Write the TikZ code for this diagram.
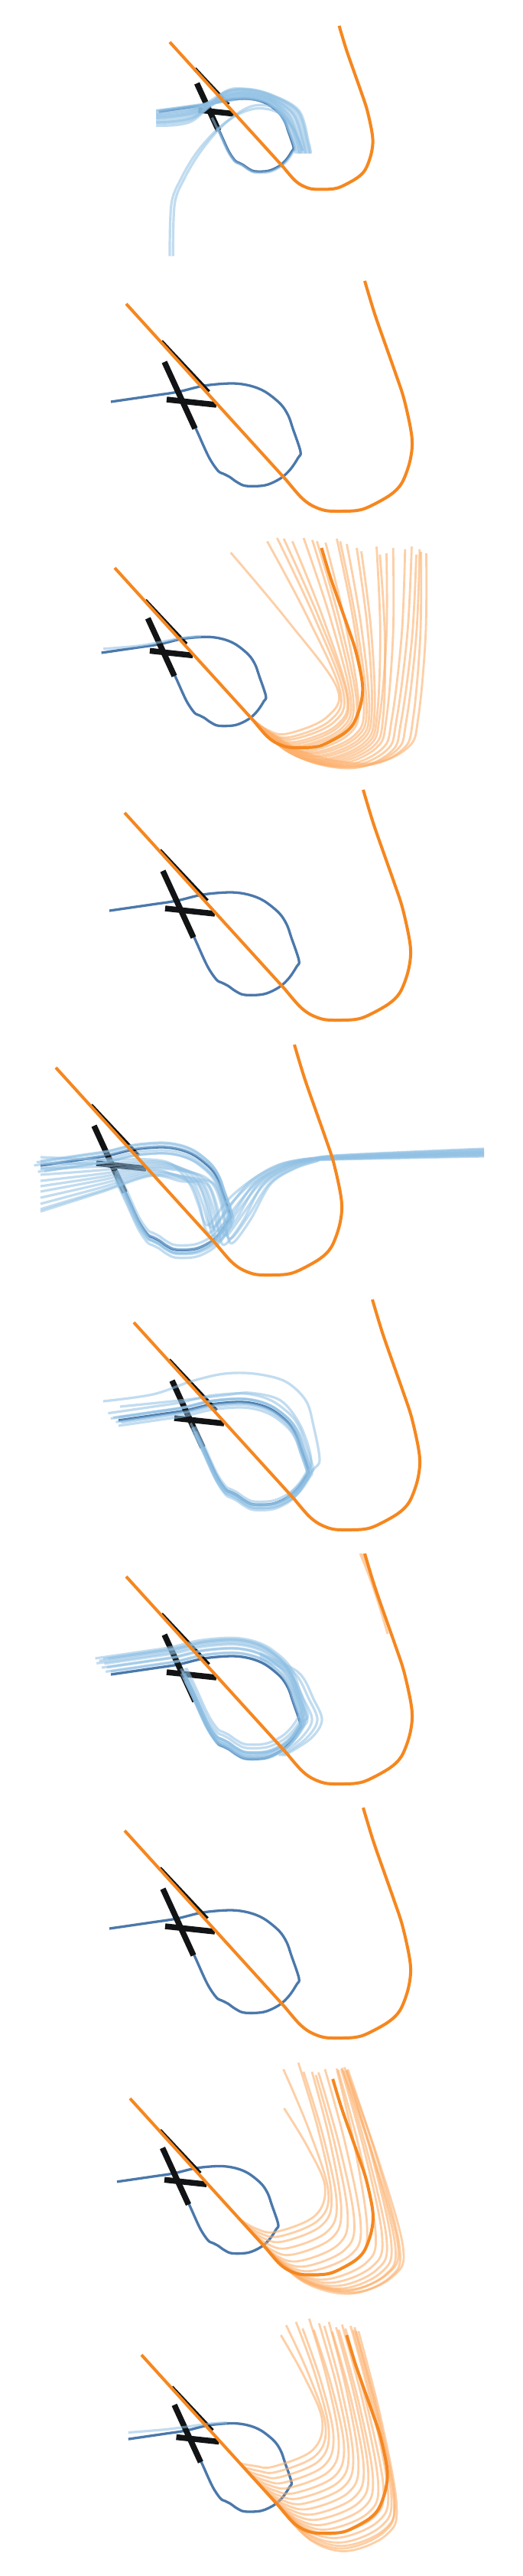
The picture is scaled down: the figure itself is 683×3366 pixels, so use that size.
\documentclass[tikz,border=0pt]{standalone}
\usepackage{tikz}
\definecolor{trackorange}{HTML}{F5871F}
\definecolor{trackblue}{HTML}{4A78AB}
\definecolor{softblue}{HTML}{8FC0E4}
\definecolor{softorange}{HTML}{FDB06C}
\definecolor{barblack}{HTML}{111314}

\newcommand{\bluetrack}{plot[smooth,tension=0.55] coordinates {(-20,128) (35,120) (68,115) (102,107) (138,104) (162,107) (182,115) (202,131) (212,146) (218,163) (228,193) (225,201) (215,216) (202,228) (182,237) (157,238) (145,233) (135,226) (127,222) (120,218) (108,200) (92,165) (80,140)}}
\newcommand{\orangetrack}{(0,0) -- plot[smooth,tension=0.55] coordinates {(210,231) (228,252) (242,263) (260,270) (280,271) (302,270) (318,265) (345,250) (360,235) (370,210) (374,186) (372,163) (363,123) (352,90) (340,56) (325,13) (312,-30)}}
\newcommand{\baseunder}{%
  \draw[blueline] \bluetrack;
  \draw[barthick] (50,76) -- (90,163);
  \draw[barthick] (53,125) -- (118,132);
  \draw[barthin] (46,49) -- (108,115);}
\newcommand{\baseover}{\draw[orangeline] \orangetrack;}
\newcommand{\orangestrand}[5]{\draw[softo] plot[smooth,tension=.6] coordinates {(#1,{1.1*#1}) ({#1+0.45*(#3-75-#1)},{1.1*#1+0.75*(#2-1.1*#1)}) ({#3-75},#2) ({#3-15},{#2-25}) (#3,{#2-70}) ({(#3+#4)/2+5},{(#2-70+#5)/2}) (#4,#5)};}
\newcommand{\bluehairpin}[4]{\draw[softb] plot[smooth,tension=.55] coordinates {(-20,#1) (59,{0.6*#1+50}) (124,{0.3*#1+85}) ({163+#2},{0.3*#1+92}) ({185+#2},152) ({196+#2},178) ({203+#2},{#3-6}) ({211+#2},#3) ({233+#2},{#3-30}) ({259+#2},152) ({290+#2},132) ({320+#2},122) (364,{117+#4/2}) (560,{110+#4})};}
\newcommand{\bluearc}[3]{\draw[softb] plot[smooth,tension=.55] coordinates {(-25,#1) (40,{#1-8}) (100,{#2+6}) (140,#2) (185,{#2+10}) ({210+#3},{#2+40}) ({228+#3},185) ({232+#3},205)};}

\begin{document}
\begin{tikzpicture}[x=1pt,y=-1pt,
  blueline/.style={draw=trackblue,line width=3.3pt,line join=round},
  orangeline/.style={draw=trackorange,line width=4pt,line join=round},
  barthick/.style={draw=barblack,line width=7.5pt},
  barthin/.style={draw=barblack,line width=5pt},
  softb/.style={draw=softblue,line width=3.2pt,draw opacity=.55,line join=round},
  softo/.style={draw=softorange,line width=2.8pt,draw opacity=.6,line join=round}
]
\useasboundingbox[fill=white] (0,0) rectangle (683,3366);

\begin{scope}[shift={(222,55)},scale=.71]
\baseunder
\foreach \ya/\yt/\e in {126/104/0,130/101/4,134/98/8,138/95/12,142/92/16,146/90/20,150/88/24,154/86/28,140/99/6,132/93/18,148/96/10,136/87/26}
  \bluearc{\ya}{\yt}{\e};
\foreach \dx in {0,6}
  \draw[softb] plot[smooth,tension=.55] coordinates {({0+\dx},394) ({3+\dx},298) ({21+\dx},251) ({49+\dx},204) ({86+\dx},{162-\dx/2}) ({124+\dx},{134-\dx}) (162,{122-\dx}) (200,{130-\dx}) (228,160) (245,200)};
\draw[softb,scale around={1.03:(150,170)}] \bluetrack;
\baseover
\end{scope}

\begin{scope}[shift={(165,397)}]
\baseunder
\baseover
\end{scope}

\begin{scope}[shift={(150,742)},scale=.867]
\baseunder
\draw[softb] plot[smooth] coordinates {(-17,122) (40,117) (100,106) (130,103)};
\foreach \bb/\bot/\ax/\tx/\ty in {205/250/335/175/-23,208/255/340/230/-40,210/258/345/245/-45,212/262/350/255/-44,205/265/352/268/-40,208/268/356/285/-45,212/270/360/298/-42,206/273/365/305/-40,210/276/368/318/-38,214/278/376/335/-44,208/280/380/340/-40,212/283/384/350/-36,206/285/388/365/-30,210/288/392/372/-25,214/290/396/395/-32,208/292/400/410/-22,212/294/405/400/-20,206/296/410/420/-30,210/298/418/438/-28,214/300/425/448/-32,208/302/432/455/-20,212/300/440/460/-28,206/298/450/462/-24,210/295/458/470/-22}
  \orangestrand{\bb}{\bot}{\ax}{\tx}{\ty};
\baseover
\end{scope}

\begin{scope}[shift={(163,1062)}]
\baseunder
\baseover
\end{scope}

\begin{scope}[shift={(73,1395)}]
\baseunder
\foreach \ya/\s/\yb/\e in {117/-10/205/0,125/-4/208/2,132/2/212/-2,140/8/214/4,148/14/218/-4,155/20/222/6,162/-8/215/0,170/5/225/3,178/22/228/-3,185/12/230/5,188/0/220/1}
  \bluehairpin{\ya}{\s}{\yb}{\e};
\foreach \k/\dy in {1.0/4,1.03/-3,0.97/6,1.05/2,1.0/-6,1.02/9}
  \draw[softb,yshift=-\dy pt,scale around={\k:(150,170)}] \bluetrack;
\baseover
\end{scope}

\begin{scope}[shift={(175,1728)}]
\baseunder
\foreach \k/\dy in {1.0/-4,1.02/3,1.04/-2,1.06/0,0.98/2,1.08/-6,1.0/7}
  \draw[softb,yshift=-\dy pt,scale around={\k:(150,170)}] \bluetrack;
\draw[softb] plot[smooth,tension=.55] coordinates {(-40,103) (25,94) (75,77) (118,67) (158,67) (198,77) (225,102) (235,135) (243,179) (235,192) (218,215) (198,230)};
\draw[softb] plot[smooth,tension=.55] coordinates {(-18,110) (60,102) (120,95) (152,92) (192,102) (218,135) (232,180) (222,205) (200,228)};
\baseover
\end{scope}

\begin{scope}[shift={(165,2060)}]
\baseunder
\foreach \k/\dy in {1.0/-4,1.03/-8,1.05/-12,1.07/-6,1.09/-14,1.11/-10,1.04/-2,1.12/-16,1.06/-18,1.02/-20}
  \draw[softb,yshift=-\dy pt,scale around={\k:(150,170)}] \bluetrack;
\foreach \dx in {0,7,13}
  \draw[softb] plot[smooth,tension=.55] coordinates {(175,{107-\dx/2}) ({212+\dx},125) ({232+\dx},160) ({243+\dx},188) ({228+\dx},212) ({200+\dx/2},234)};
\draw[softo] plot[smooth] coordinates {(306,-30) (318,0) (330,35) (342,75)};
\draw[softo] plot[smooth] coordinates {(309,-30) (323,5) (336,45)};
\baseover
\end{scope}

\begin{scope}[shift={(163,2392)}]
\baseunder
\baseover
\end{scope}

\begin{scope}[shift={(170,2742)},scale=.85]
\baseunder
\foreach \bb/\bot/\ax/\tx/\ty in {168/205/300/237/15,172/212/305/236/-45,178/220/310/259/-55,185/230/318/267/-41,190/240/325/280/-41,195/250/335/286/-36,200/258/345/290/-40,205/265/355/300/-45,210/272/365/318/-46,214/278/378/320/-44,210/283/388/325/-45,206/288/395/328/-43,212/292/402/333/-43,208/296/408/330/-48,214/300/415/335/-45,210/298/420/333/-43,206/294/412/326/-47}
  \orangestrand{\bb}{\bot}{\ax}{\tx}{\ty};
\baseover
\end{scope}

\begin{scope}[shift={(185,3077)},scale=.86]
\baseunder
\draw[softb] plot[smooth] coordinates {(-20,118) (40,113) (100,105) (130,103)};
\foreach \bb/\bot/\ax/\tx/\ty in {150/170/275/212/-30,155/178/280/220/-45,160/186/285/235/-50,165/194/292/245/-40,170/202/300/255/-55,175/210/308/262/-38,180/218/315/270/-48,185/226/322/278/-44,190/234/330/285/-50,195/242/338/290/-35,200/250/345/296/-42,205/258/352/300/-38,210/265/360/305/-46,214/272/368/310/-40,210/278/375/318/-44,206/285/380/322/-38,212/290/385/326/-36,208/294/384/324/-42,214/298/388/330/-36}
  \orangestrand{\bb}{\bot}{\ax}{\tx}{\ty};
\baseover
\end{scope}
\end{tikzpicture}
\end{document}
